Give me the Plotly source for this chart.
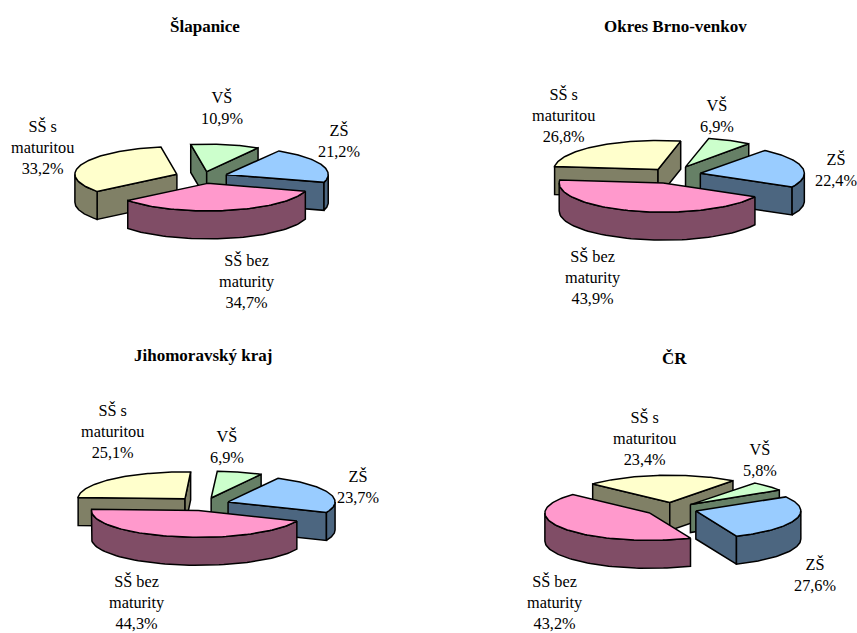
import numpy as np
import plotly.graph_objects as go

# ---- data ----
categories = ["VŠ", "ZŠ", "SŠ bez maturity", "SŠ s maturitou"]
label_lines = ["VŠ", "ZŠ", "SŠ bez<br>maturity", "SŠ s<br>maturitou"]
slapanice = [10.9, 21.2, 34.7, 33.2]
okres_brno_venkov = [6.9, 22.4, 43.9, 26.8]
jihomoravsky_kraj = [6.9, 23.7, 44.3, 25.1]
cr = [5.8, 27.6, 43.2, 23.4]
titles = ["Šlapanice", "Okres Brno-venkov", "Jihomoravský kraj", "ČR"]
series = [slapanice, okres_brno_venkov, jihomoravsky_kraj, cr]

# ---- styles and layout ----
top_colors = ["#CCFFCC", "#99CCFF", "#FF99CC", "#FFFFCC"]
wall_colors = ["#668066", "#4C6680", "#804D66", "#808066"]
SERIF = "Liberation Serif, Times New Roman, serif"
DEPTH = 28

pies = [
    dict(c=(203, 177), r=102, ratio=0.27, start=-9, explode=[20, 25, 24, 28],
         title=(205, 26),
         labels=[(222, 108), (339, 141), (247, 281), (42, 147)]),
    dict(c=(672, 175), r=104, ratio=0.28, start=12.6, explode=[32, 29, 30, 24],
         title=(675, 26),
         labels=[(717, 116), (836, 170), (593, 277), (563, 115)]),
    dict(c=(204.5, 504), r=107, ratio=0.25, start=3, explode=[25, 25, 27, 29],
         title=(203, 355),
         labels=[(227, 447), (358, 487), (137, 602), (112, 431)]),
    dict(c=(672, 509), r=105, ratio=0.26, start=37, explode=[25, 25, 27, 25],
         title=(674, 358),
         labels=[(760, 460), (815, 575), (555, 602), (644, 438)]),
]

fig = go.Figure()


def poly(xs, ys, color):
    fig.add_trace(go.Scatter(
        x=list(xs) + [xs[0]], y=list(ys) + [ys[0]], mode="lines", fill="toself",
        fillcolor=color, line=dict(color="black", width=1.5),
        hoverinfo="skip", showlegend=False))


def draw_slice(ax, ay, r, ratio, a0, a1, top, wall):
    def rim(a):
        rad = np.radians(a)
        return ax + r * np.sin(rad), ay - r * ratio * np.cos(rad)

    # radial side walls facing the viewer
    for edge, normal in ((a0, a0 - 90), (a1, a1 + 90)):
        if np.cos(np.radians(normal)) < 0:
            ex, ey = rim(edge)
            poly([ax, ex, ex, ax], [ay, ey, ey + DEPTH, ay + DEPTH], wall)
    # outer curved wall: the part of the rim on the viewer's side
    for k in (-360, 0, 360):
        s, e = max(a0, 90 + k), min(a1, 270 + k)
        if e > s:
            aa = np.linspace(s, e, 60)
            px, py = rim(aa)
            poly(np.r_[px, px[::-1]], np.r_[py, py[::-1] + DEPTH], wall)
    # top face
    aa = np.linspace(a0, a1, 90)
    px, py = rim(aa)
    poly(np.r_[ax, px], np.r_[ay, py], top)


annotations = []
for values, pie, title in zip(series, pies, titles):
    total = sum(values)
    cx, cy = pie["c"]
    ratio = pie["ratio"]
    parts = []
    a = pie["start"]
    for i, v in enumerate(values):
        sweep = v / total * 360
        mid = np.radians(a + sweep / 2)
        ax = cx + pie["explode"][i] * np.sin(mid)
        ay = cy - pie["explode"][i] * ratio * np.cos(mid)
        depth_key = ay - pie["r"] * 0.5 * ratio * np.cos(mid)
        parts.append((depth_key, ax, ay, a, a + sweep, i))
        a += sweep
    for _, ax, ay, a0, a1, i in sorted(parts):
        draw_slice(ax, ay, pie["r"], ratio, a0, a1, top_colors[i], wall_colors[i])

    annotations.append(dict(
        x=pie["title"][0], y=pie["title"][1], text=f"<b>{title}</b>",
        showarrow=False, xanchor="center", yanchor="middle",
        font=dict(family=SERIF, size=17, color="black")))
    for i, v in enumerate(values):
        text = label_lines[i] + "<br>" + f"{v:.1f}".replace(".", ",") + "%"
        annotations.append(dict(
            x=pie["labels"][i][0], y=pie["labels"][i][1], text=text,
            showarrow=False, xanchor="center", yanchor="middle",
            font=dict(family=SERIF, size=16.3, color="black")))

fig.update_layout(
    width=857, height=633, margin=dict(l=0, r=0, t=0, b=0),
    paper_bgcolor="white", plot_bgcolor="white", showlegend=False,
    hovermode=False, annotations=annotations,
    xaxis=dict(range=[0, 857], visible=False, fixedrange=True),
    yaxis=dict(range=[633, 0], visible=False, fixedrange=True),
)
fig.write_html("out.html", config=dict(displayModeBar=False),
               post_script="document.body.style.margin='0';document.body.style.overflow='hidden';")
